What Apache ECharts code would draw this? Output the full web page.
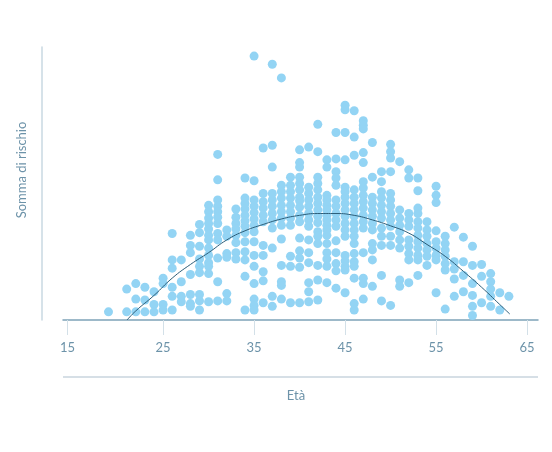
<!DOCTYPE html>
<html>
<head>
<meta charset="utf-8">
<script src="https://cdn.jsdelivr.net/npm/echarts@6/dist/echarts.min.js"></script>
<style>
html,body{margin:0;padding:0;background:#fff;}
#chart{width:552px;height:452px;}
</style>
</head>
<body>
<div id="chart"></div>
<script>
// Ages (x) and the risk-sum values observed at each age (y)
const ages = [19,21,22,23,24,25,26,27,28,29,30,31,32,33,34,35,36,37,38,39,40,41,42,43,44,45,46,47,48,49,50,51,52,53,54,55,56,57,58,59,60,61,62,63];
const riskByAge = [
  [0.9],
  [3.4,0.9],
  [4.0,2.3,0.9],
  [3.6,2.2,0.9],
  [3.1,1.7,0.9],
  [4.6,4.0,1.7,1.1],
  [9.5,6.6,5.7,3.6,2.6,1.1],
  [6.6,4.2,2.6,2.0],
  [9.3,8.2,7.4,5.0,2.8,1.8,1.5],
  [10.5,9.6,8.1,6.7,5.9,5.2,2.8,2.1,1.1],
  [12.6,11.9,11.2,10.6,10.0,9.3,8.8,7.9,7.1,6.3,5.9,5.1,2.0],
  [18.2,15.4,13.2,12.5,11.9,11.3,10.6,9.5,8.8,6.8,4.2,2.1],
  [9.9,9.2,7.3,6.9,2.9,2.1],
  [12.2,11.3,10.6,10.0,9.3,8.5,7.4,6.7],
  [15.6,13.4,12.8,12.2,11.5,10.9,10.3,9.6,8.6,7.5,6.6,4.8,1.1],
  [29.0,15.3,13.2,12.5,11.8,11.1,10.4,9.7,8.6,7.1,5.9,4.0,2.3,1.6,1.1],
  [18.9,13.9,13.0,12.3,11.5,10.8,8.2,7.1,5.3,4.3,1.9],
  [28.1,19.2,16.8,13.9,13.2,12.5,11.7,11.0,10.1,7.9,2.6,1.5],
  [26.6,14.8,14.1,13.4,12.6,11.9,11.2,10.4,8.9,6.0,4.2,3.8,2.3],
  [15.7,14.8,14.1,13.4,12.6,11.9,11.2,10.4,7.0,5.9,1.9],
  [18.7,17.3,16.8,15.7,15.0,14.3,13.5,13.1,12.4,11.5,10.8,9.0,7.6,6.8,5.8,1.9],
  [19.0,14.6,13.9,13.2,12.5,11.7,11.0,10.3,8.8,7.4,6.3,4.1,3.1,2.0],
  [21.5,18.5,15.7,15.0,14.3,13.5,12.8,12.1,11.4,10.7,9.7,9.2,8.4,6.0,4.4,2.2],
  [17.6,16.8,13.7,13.2,12.6,12.1,11.5,11.0,10.4,9.9,9.3,8.4,7.4,6.7,5.9,4.1],
  [20.6,17.7,16.3,15.6,14.8,13.2,12.5,11.7,11.0,10.3,8.7,7.4,6.2,5.4,3.5],
  [23.6,23.1,20.6,17.6,14.6,14.1,13.5,12.8,12.1,11.4,10.6,9.9,9.2,7.1,6.5,5.9,5.5,3.0],
  [23.0,20.1,18.1,14.3,13.5,12.8,12.1,11.4,10.6,9.9,9.2,8.4,7.3,6.4,5.9,4.6,1.8,1.1],
  [21.9,21.4,21.0,18.4,17.3,15.2,14.5,13.7,13.0,12.3,11.5,10.8,10.1,7.4,4.6,4.0,2.3],
  [19.5,15.7,13.5,12.8,12.1,11.4,10.6,9.9,8.4,7.7,6.6,3.7],
  [16.3,15.2,14.1,13.4,12.6,11.9,11.2,10.1,9.2,8.2,4.9,2.1],
  [19.3,18.5,17.8,16.3,13.9,13.2,12.5,11.7,11.0,10.3,9.2,8.2,1.6],
  [17.4,12.1,11.2,10.4,9.7,8.8,7.9,4.4,3.7],
  [16.5,15.6,11.7,11.0,10.3,8.8,8.1,7.3,6.6,4.1],
  [15.6,14.2,12.3,11.7,10.8,10.1,9.3,8.6,7.9,7.1,6.6,4.9],
  [10.8,9.9,9.2,8.4,7.7,7.0,6.0],
  [14.7,13.7,12.9,9.8,8.6,7.9,7.1,6.6,3.0],
  [9.2,8.4,7.7,7.0,6.2,5.5,1.2],
  [10.2,6.4,5.6,4.5,2.6],
  [9.1,6.4,4.9,3.1],
  [8.1,6.0,4.0,2.7,1.5,0.5],
  [6.1,4.8,1.9],
  [5.1,4.2,3.4,2.6,1.5],
  [3.0,1.1],
  [2.6]
];
// Fitted trend curve
const fitAges   = [21.04,22,24,26,28,30,32,34,36,38,40,42,44,46,48,50,52,54,56,58,60,62,63.1];
const fitValues = [0,1.0,2.7,4.6,6.1,7.4,8.8,9.8,10.5,11.1,11.5,11.7,11.7,11.5,11.0,10.35,9.55,8.3,7.0,5.35,3.6,1.7,0.66];
// Tick positions and labels on the age axis
const tickValues = [14.5,25,35,45,55,65];
const tickLabels = ['15','25','35','45','55','65'];
const xTitle = 'Età';
const yTitle = 'Somma di rischio';

const points = [];
ages.forEach((a, i) => riskByAge[i].forEach(v => points.push([a, v])));
const fitLine = fitAges.map((a, i) => [a, fitValues[i]]);

const chart = echarts.init(document.getElementById('chart'), null, {renderer: 'canvas'});
chart.setOption({
  animation: false,
  backgroundColor: '#ffffff',
  grid: {left: 63, right: 14, top: 47, bottom: 132},
  xAxis: {
    type: 'value', min: 14, max: 66.2,
    axisLine: {show: true, lineStyle: {color: '#7ea3b8', width: 1.5}},
    axisTick: {show: true, customValues: tickValues, length: 15, lineStyle: {color: '#d3e0e8', width: 1}},
    axisLabel: {
      show: true, customValues: tickValues, margin: 21,
      color: '#6d93a9', fontSize: 13, fontFamily: 'Lato',
      formatter: v => tickLabels[tickValues.indexOf(v)] ?? String(Math.round(v))
    },
    splitLine: {show: false}
  },
  yAxis: {
    type: 'value', min: 0, max: 30, offset: 21,
    axisLine: {show: true, lineStyle: {color: '#c8d8e2', width: 1.5}},
    axisTick: {show: false}, axisLabel: {show: false}, splitLine: {show: false}
  },
  graphic: [
    {type: 'line', shape: {x1: 63, y1: 377, x2: 538, y2: 377}, style: {stroke: '#c8d5de', lineWidth: 1.5}},
    {type: 'text', x: 296, y: 396, style: {text: xTitle, fill: '#6d93a9', fontSize: 13, fontFamily: 'Lato', align: 'center', verticalAlign: 'middle'}},
    {type: 'text', x: 22, y: 170, rotation: Math.PI / 2, style: {text: yTitle, fill: '#6d93a9', fontSize: 13, fontFamily: 'Lato', align: 'center', verticalAlign: 'middle'}}
  ],
  series: [
    {type: 'scatter', data: points, symbolSize: 9, itemStyle: {color: '#93d4f4', opacity: 1}, z: 2},
    {type: 'line', data: fitLine, smooth: true, showSymbol: false, lineStyle: {color: '#2c5d78', width: 1}, z: 3}
  ]
});
</script>
</body>
</html>
